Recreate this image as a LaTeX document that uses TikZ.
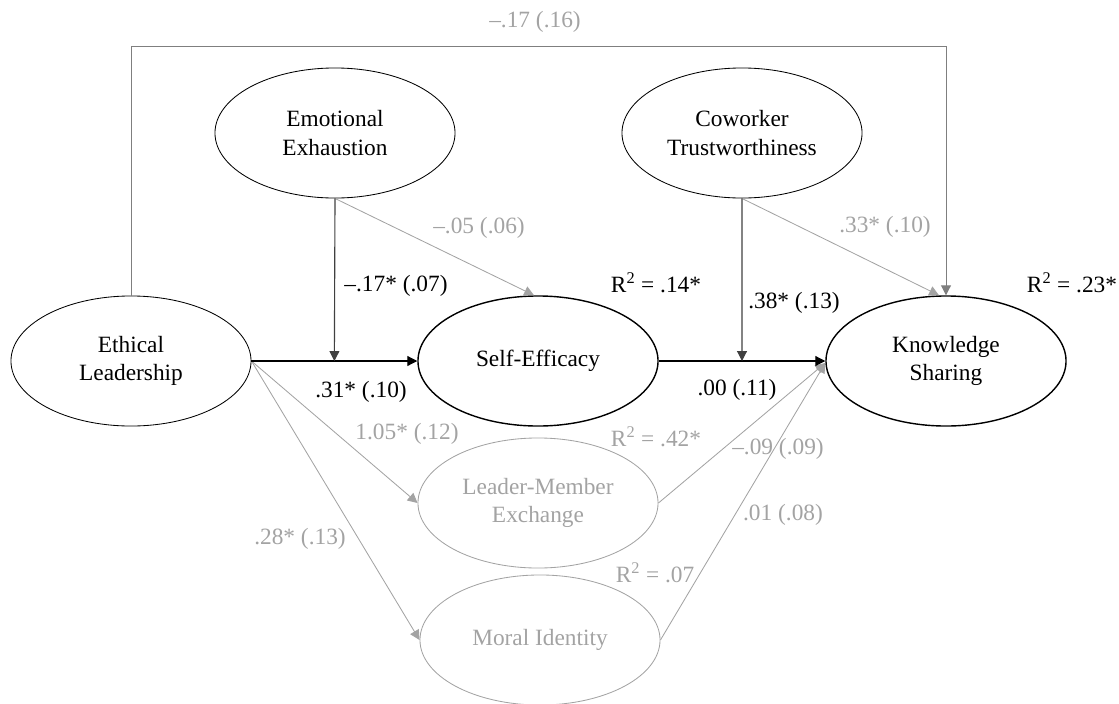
\documentclass[tikz,border=0pt]{standalone}
\usepackage{fontspec}
\setmainfont{Liberation Serif}
\usetikzlibrary{shapes.geometric,arrows.meta,calc}
\definecolor{pale}{HTML}{A3A3A3}
\definecolor{midgray}{HTML}{7F7F7F}
\definecolor{darkline}{HTML}{404040}

\begin{document}
\begin{tikzpicture}[x=0.025cm,y=-0.025cm,
  every node/.style={font=\fontsize{16.6}{20}\selectfont},
  latent/.style={ellipse,draw,line width=0.6pt,minimum width=6cm,minimum height=3.25cm,inner sep=0pt,align=center},
  outcome/.style={latent,line width=1pt},
  faded/.style={latent,draw=pale,text=pale},
  path/.style={-{Triangle[length=7pt,width=7pt]},line width=0.8pt},
  weak/.style={path,draw=pale,line width=0.6pt},
  glabel/.style={text=pale}]
\useasboundingbox (0,0) rectangle (1119,704);
\node [latent] (el) at (131,361) {Ethical\\Leadership};
\node [outcome] (se) at (538,361) {Self-Efficacy};
\node [outcome] (ks) at (946,361) {Knowledge\\Sharing};
\node [latent] (ee) at (335,133) {Emotional\\Exhaustion};
\node [latent] (ct) at (742,133) {Coworker\\Trustworthiness};
\node [faded] (lmx) at (538,503) {Leader-Member\\Exchange};
\node [faded] (mi) at (540,640) {Moral Identity};
\coordinate (m1) at ($(el.east)!0.5!(se.west)$);
\coordinate (m2) at ($(se.east)!0.5!(ks.west)$);
\draw [path,draw=midgray,line width=0.7pt] (el.north) -- ++(0,-249) -| (ks.north);
\draw [weak] (ee.south) -- ($(se.north)+(-4,0)$);
\draw [weak] (ct.south) -- ($(ks.north)+(-7,0)$);
\draw [weak] (el.east) -- (lmx.west);
\draw [weak] (el.east) -- (mi.west);
\draw [weak] (lmx.east) -- ($(ks.west)+(0,2)$);
\draw [weak] (mi.east) -- ($(ks.west)+(0,2)$);
\draw [path] (el.east) -- (se.west);
\draw [path] (se.east) -- (ks.west);
\draw [path,draw=darkline] (ee.south) -- (m1);
\draw [path,draw=darkline] (ct.south) -- (m2);
\node [glabel] (l1) at (535,22) {–.17 (.16)};
\node [glabel] (l2) at (479,228) {–.05 (.06)};
\node (l3) at (396,286) {–.17* (.07)};
\node (r1) at (656,283) {R\textsuperscript{2} = .14*};
\node (l4) at (794,303) {.38* (.13)};
\node [glabel] (l5) at (885,227) {.33* (.10)};
\node (r2) at (1072,283) {R\textsuperscript{2} = .23*};
\node (l6) at (361,392) {.31* (.10)};
\node (l7) at (737,390) {.00 (.11)};
\node [glabel] (l8) at (407,434) {1.05* (.12)};
\node [glabel] (r3) at (656,437) {R\textsuperscript{2} = .42*};
\node [glabel] (l9) at (778,449) {–.09 (.09)};
\node [glabel] (l10) at (783,515) {.01 (.08)};
\node [glabel] (l11) at (300,539) {.28* (.13)};
\node [glabel] (r4) at (655,573) {R\textsuperscript{2} = .07};
\end{tikzpicture}
\end{document}
